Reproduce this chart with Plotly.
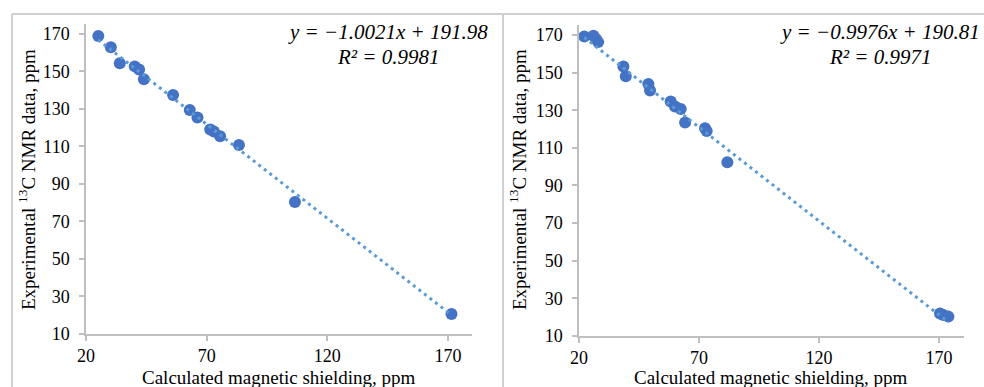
import plotly.graph_objects as go
import numpy as np

# Left panel data (calculated shielding, experimental shift)
left_x = [25.1, 30.3, 34.0, 40.2, 42.0, 44.0, 56.1, 63.0, 66.2, 71.5, 73.0, 75.6, 83.4, 106.6, 171.5]
left_y = [168.9, 162.9, 154.4, 152.7, 151.0, 145.8, 137.5, 129.5, 125.5, 119.0, 118.0, 115.4, 110.8, 80.4, 20.7]
left_fit = [-1.0021, 191.98]
left_r2 = 0.9981

# Right panel data
right_x = [22.2, 26.0, 27.1, 28.0, 38.5, 39.5, 48.9, 49.6, 58.2, 60.0, 62.4, 64.2, 72.5, 73.2, 81.8, 170.4, 171.8, 173.9]
right_y = [169.2, 169.6, 167.8, 166.2, 153.2, 148.0, 143.9, 140.5, 134.6, 132.0, 130.7, 123.5, 120.4, 119.0, 102.4, 22.0, 21.2, 20.3]
right_fit = [-0.9976, 190.81]
right_r2 = 0.9971

x_ticks = [20, 70, 120, 170]
y_ticks = [10, 30, 50, 70, 90, 110, 130, 150, 170]

W, H = 984, 387
FONT = "Liberation Serif, Times New Roman, serif"
MARKER = "#4472C4"
TREND = "#5B9BD5"
AXIS = "#BFBFBF"
BORDER = "#D0D0D0"

def px(x):
    return x / W

def py(y):
    return 1 - y / H

fig = go.Figure()

panels = [
    (left_x, left_y, left_fit, "x", "y"),
    (right_x, right_y, right_fit, "x2", "y2"),
]
for xs, ys, fit, xa, ya in panels:
    fig.add_trace(go.Scatter(x=xs, y=ys, mode="markers", xaxis=xa, yaxis=ya,
                             marker=dict(color=MARKER, size=12, line=dict(width=0)),
                             showlegend=False, hoverinfo="skip"))
    xl = np.array([min(xs), max(xs)])
    fig.add_trace(go.Scatter(x=xl, y=fit[0] * xl + fit[1], mode="lines", xaxis=xa, yaxis=ya,
                             line=dict(color=TREND, width=3, dash="3px,4px"),
                             showlegend=False, hoverinfo="skip"))

axis_common = dict(showline=True, linecolor=AXIS, linewidth=1.5, ticks="outside",
                   tickcolor=AXIS, ticklen=5, tickwidth=1.5, showgrid=False, zeroline=False,
                   automargin=False,
                   tickfont=dict(family=FONT, size=18, color="#000000"))

fig.update_layout(
    width=W, height=H, margin=dict(l=0, r=0, t=0, b=0, autoexpand=False),
    paper_bgcolor="white", plot_bgcolor="white",
    xaxis=dict(domain=[px(86), px(472)], range=[20, 180], tickvals=x_ticks, anchor="y", **axis_common),
    yaxis=dict(domain=[py(334), py(24)], range=[10, 175.3], tickvals=y_ticks, anchor="x",
               ticklabelstandoff=6, **axis_common),
    xaxis2=dict(domain=[px(579), px(964)], range=[20, 180.4], tickvals=x_ticks, anchor="y2", **axis_common),
    yaxis2=dict(domain=[py(336), py(25)], range=[10, 175.3], tickvals=y_ticks, anchor="x2",
                ticklabelstandoff=6, **axis_common),
)

ann = []
for cx, title_cy, ycx, eq_cx, fit, r2 in [
    (279, 180, 27, 388, left_fit, left_r2),
    (771, 180, 518, 880, right_fit, right_r2),
]:
    ann.append(dict(text="Calculated magnetic shielding, ppm", x=px(cx), y=py(377), xref="paper", yref="paper",
                    showarrow=False, xanchor="center", yanchor="middle",
                    font=dict(family=FONT, size=19, color="#000000")))
    ann.append(dict(text="Experimental <sup>13</sup>C NMR data, ppm", x=px(ycx), y=py(title_cy),
                    xref="paper", yref="paper", textangle=-90, showarrow=False,
                    xanchor="center", yanchor="middle",
                    font=dict(family=FONT, size=19, color="#000000")))
    sign = "−" if fit[0] < 0 else ""
    eq = f"<i>y = {sign}{abs(fit[0]):.4f}x + {fit[1]:.2f}</i>"
    ann.append(dict(text=eq, x=px(eq_cx), y=py(32), xref="paper", yref="paper", showarrow=False,
                    xanchor="center", yanchor="middle",
                    font=dict(family=FONT, size=21, color="#000000")))
    ann.append(dict(text=f"<i>R² = {r2:.4f}</i>", x=px(eq_cx), y=py(57), xref="paper", yref="paper",
                    showarrow=False, xanchor="center", yanchor="middle",
                    font=dict(family=FONT, size=21, color="#000000")))

shapes = [
    dict(type="line", xref="paper", yref="paper", x0=px(12), x1=1, y0=py(14), y1=py(14),
         line=dict(color=BORDER, width=2)),
    dict(type="line", xref="paper", yref="paper", x0=px(12), x1=px(12), y0=py(14), y1=0,
         line=dict(color=BORDER, width=2)),
    dict(type="line", xref="paper", yref="paper", x0=px(503), x1=px(503), y0=py(14), y1=0,
         line=dict(color=BORDER, width=2)),
]
fig.update_layout(annotations=ann, shapes=shapes)

fig.write_html("out.html", config={"displayModeBar": False},
               post_script="document.body.style.margin='0';document.body.style.padding='0';"
                           "document.body.style.overflow='hidden';")
